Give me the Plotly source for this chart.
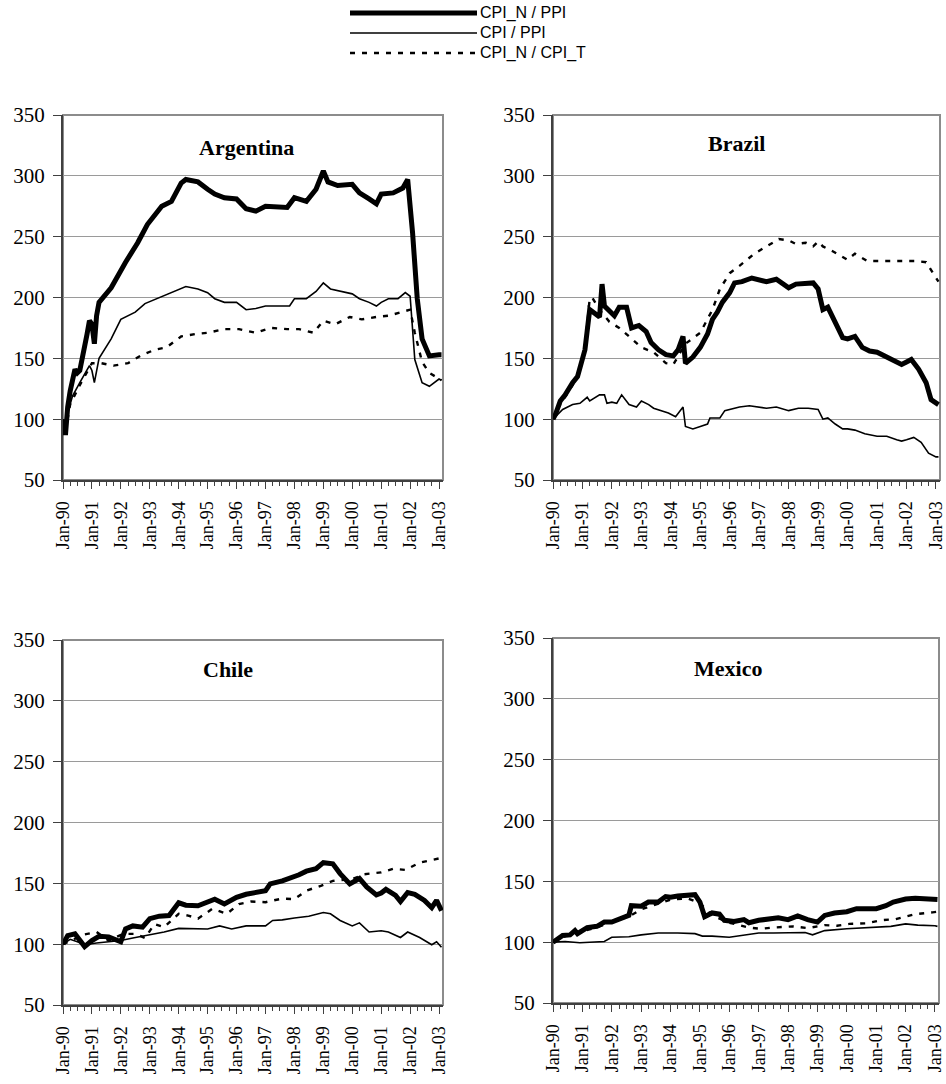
import plotly.graph_objects as go

# ---------------- data ----------------
ar_nppi_d = ["1990-01","1990-02","1990-03","1990-04","1990-06","1990-07","1990-08","1990-09","1990-11","1990-12",
             "1991-01","1991-02","1991-03","1991-04","1991-09","1992-03","1992-08","1992-12","1993-06","1993-10",
             "1994-02","1994-04","1994-09","1995-01","1995-04","1995-08","1996-01","1996-05","1996-09","1997-01",
             "1997-06","1997-10","1998-01","1998-06","1998-10","1999-01","1999-03","1999-07","2000-01","2000-04",
             "2000-08","2000-11","2001-01","2001-06","2001-10","2001-12","2002-02","2002-04","2002-06","2002-09",
             "2003-01","2003-02"]
ar_nppi_v = [100,87,110,123,141,138,140,149,170,181,
             178,162,185,196,208,229,245,260,275,279,
             294,297,295,289,285,282,281,273,271,275,
             275,274,282,279,289,304,295,292,293,286,
             281,277,285,286,290,297,253,199,166,152,
             153,153]

ar_cpi_d = ["1990-01","1990-02","1990-03","1990-05","1990-08","1990-12","1991-01","1991-02","1991-04","1991-09",
            "1992-01","1992-07","1992-11","1993-06","1993-12","1994-04","1994-09","1995-01","1995-04","1995-08",
            "1996-01","1996-05","1996-09","1997-01","1997-06","1997-11","1998-01","1998-06","1998-10","1999-01",
            "1999-04","1999-08","2000-01","2000-04","2000-08","2000-11","2001-01","2001-04","2001-08","2001-11",
            "2002-01","2002-03","2002-06","2002-09","2003-01","2003-02"]
ar_cpi_v = [100,88,105,119,130,144,140,130,150,166,
            182,188,195,201,206,209,207,204,199,196,
            196,190,191,193,193,193,199,199,205,212,
            207,205,203,199,196,193,196,199,199,204,
            201,149,130,127,133,132]

ar_nt_d = ["1990-01","1990-02","1990-04","1990-08","1991-01","1991-05","1991-10","1992-04","1992-09","1993-03",
           "1993-08","1994-02","1994-08","1995-01","1995-08","1996-02","1996-09","1997-03","1997-10","1998-03",
           "1998-09","1999-01","1999-06","1999-12","2000-05","2000-11","2001-04","2001-10","2002-01","2002-03",
           "2002-06","2002-09","2003-01","2003-02"]
ar_nt_v = [100,90,112,128,146,146,144,146,152,157,
           159,168,170,171,174,174,171,175,174,174,
           171,181,178,184,182,184,185,188,190,171,
           147,138,133,132]

br_nppi_d = ["1990-01","1990-02","1990-04","1990-06","1990-09","1990-11","1991-02","1991-04","1991-06","1991-08",
             "1991-09","1991-10","1992-02","1992-04","1992-07","1992-09","1992-12","1993-03","1993-05","1993-08",
             "1993-11","1994-02","1994-04","1994-06","1994-07","1994-10","1995-01","1995-04","1995-06","1995-08",
             "1995-10","1996-01","1996-03","1996-06","1996-10","1997-01","1997-04","1997-08","1998-01","1998-04",
             "1998-08","1998-11","1999-01","1999-03","1999-05","1999-08","1999-11","2000-01","2000-04","2000-07",
             "2000-10","2001-01","2001-05","2001-07","2001-11","2002-01","2002-03","2002-06","2002-09","2002-11",
             "2003-01","2003-02"]
br_nppi_v = [100,104,115,120,130,135,157,190,187,184,
             211,193,185,192,192,175,177,172,163,157,
             153,152,157,168,146,151,159,170,182,188,
             196,204,212,213,216,214,213,215,208,211,
             211,212,207,190,192,179,167,166,168,159,
             156,155,151,148,145,147,149,141,130,116,
             113,112]

br_cpi_d = ["1990-01","1990-05","1990-09","1990-12","1991-03","1991-04","1991-08","1991-10","1991-11","1992-01",
            "1992-03","1992-05","1992-08","1992-11","1993-01","1993-04","1993-06","1993-09","1993-12","1994-03",
            "1994-06","1994-07","1994-10","1995-01","1995-04","1995-05","1995-09","1995-11","1996-01","1996-05",
            "1996-09","1997-01","1997-04","1997-08","1998-01","1998-05","1998-09","1999-01","1999-03","1999-05",
            "1999-08","1999-11","2000-01","2000-04","2000-08","2001-01","2001-05","2001-09","2001-11","2002-01",
            "2002-04","2002-07","2002-10","2003-01","2003-02"]
br_cpi_v = [100,108,112,113,118,115,120,120,113,114,
            113,120,112,110,115,112,109,107,105,102,
            110,94,92,94,96,101,101,107,108,110,
            111,110,109,110,107,109,109,108,100,101,
            96,92,92,91,88,86,86,83,82,83,
            85,81,72,69,69]

br_nt_d = ["1990-01","1990-04","1990-09","1990-11","1991-02","1991-04","1991-05","1991-08","1991-12","1992-04",
           "1992-08","1993-01","1993-06","1993-11","1994-02","1994-07","1995-01","1995-06","1995-09","1996-01",
           "1996-05","1996-11","1997-04","1997-09","1998-01","1998-04","1998-08","1998-11","1999-01","1999-03",
           "1999-07","1999-11","2000-01","2000-04","2000-09","2001-03","2001-08","2002-01","2002-05","2002-09",
           "2003-01","2003-02"]
br_nt_v = [100,112,128,135,159,199,200,190,180,175,
           168,159,155,146,145,162,171,190,207,220,
           226,236,242,248,247,244,245,242,246,242,
           238,233,231,236,230,230,230,230,230,229,
           216,213]

cl_nppi_d = ["1990-01","1990-03","1990-06","1990-08","1990-10","1991-01","1991-04","1991-08","1991-11","1992-01",
             "1992-03","1992-06","1992-10","1993-01","1993-05","1993-09","1994-01","1994-04","1994-09","1995-01",
             "1995-04","1995-08","1996-01","1996-05","1996-09","1997-01","1997-03","1997-08","1998-03","1998-06",
             "1998-10","1999-01","1999-05","1999-08","1999-12","2000-04","2000-07","2000-11","2001-01","2001-03",
             "2001-07","2001-09","2001-12","2002-03","2002-07","2002-10","2002-12","2003-02"]
cl_nppi_v = [100,107,108.5,104,98,103,106.5,106,104,102,
             112.5,115,114,121,123,123.5,134,132,131.5,134.5,
             137,133,138.5,141,142,144,149.5,152,157,160,
             162,167,166,158,149.5,154,147,140.5,142,145,
             140,135,142.5,141,136,130,136,127.5]

cl_cpi_d = ["1990-01","1990-04","1990-07","1990-10","1991-03","1991-08","1992-01","1992-06","1993-01","1993-07",
            "1994-01","1994-06","1995-01","1995-06","1995-11","1996-05","1997-01","1997-04","1997-08","1998-01",
            "1998-07","1999-01","1999-04","1999-08","2000-01","2000-04","2000-08","2001-01","2001-04","2001-09",
            "2001-12","2002-05","2002-10","2002-12","2003-02"]
cl_cpi_v = [100,104,102,99.5,101,102,103,105,107.5,110,
            113,113,112.5,115,112.5,115,115,119.5,120,121.5,
            123,126,125,119.5,115,117.5,110,111,110,105.5,
            110,105.5,99.5,102,97.5]

cl_nt_d = ["1990-01","1990-10","1991-03","1991-08","1992-02","1992-07","1992-11","1993-03","1993-07","1994-01",
           "1994-05","1994-09","1995-03","1995-09","1996-02","1996-07","1997-01","1997-08","1998-01","1998-06",
           "1998-12","1999-05","2000-01","2000-06","2001-01","2001-06","2001-11","2002-05","2003-01","2003-02"]
cl_nt_v = [100,108,110,103,108.5,108.5,105,116.5,114,125,
           123.5,121,129,125,133,135,134.5,137.5,137,144,
           148,152,153.5,157.5,159,162,161,167,170.5,171]

mx_nppi_d = ["1990-01","1990-05","1990-08","1990-10","1990-11","1991-03","1991-07","1991-10","1992-01","1992-04",
             "1992-08","1992-09","1993-01","1993-04","1993-08","1993-11","1994-01","1994-04","1994-08","1994-11",
             "1995-01","1995-03","1995-06","1995-09","1995-11","1996-03","1996-07","1996-09","1997-01","1997-04",
             "1997-09","1998-01","1998-05","1998-09","1999-01","1999-04","1999-08","2000-01","2000-05","2001-01",
             "2001-05","2001-08","2002-01","2002-05","2002-09","2003-01","2003-02"]
mx_nppi_v = [100,105.5,106,109.5,107,112,113,116.5,116.5,119,
             122,130,129.5,133,133,137.5,137,138,138,139,
             133,121,124,123,118,117,118.5,116,118,119,
             120,118.5,121.5,118.5,116.5,122,124,125,127.5,127.5,
             130,133,135.5,136,136,135.5,135]

mx_cpi_d = ["1990-01","1990-06","1990-12","1991-07","1991-10","1992-01","1992-08","1993-01","1993-08","1994-04",
            "1994-11","1995-02","1995-06","1996-01","1996-05","1997-01","1997-07","1998-01","1998-08","1998-11",
            "1999-04","2000-01","2000-07","2001-01","2001-07","2002-01","2002-06","2003-01","2003-02"]
mx_cpi_v = [100,100.5,99.5,100.5,100.5,104,104.5,106,107.5,107.5,
            107,105,105,104,105,107.5,107.5,107.5,108,106,
            109.5,111,111.5,112.5,113,115,114,113.5,113]

mx_nt_d = ["1990-01","1990-06","1991-01","1991-07","1992-01","1992-08","1993-01","1993-08","1994-01","1994-08",
           "1995-01","1995-06","1996-01","1996-09","1997-02","1997-07","1998-03","1998-09","1999-04","1999-09",
           "2000-02","2000-09","2001-03","2001-09","2002-05","2002-12","2003-02"]
mx_nt_v = [100,105,109,112,117,121,127,132,135,136,
           132,122,116,112,111,112,113,111.5,114,113.5,
           115,115.5,118,119,123,124.5,125]

countries = ["Argentina", "Brazil", "Chile", "Mexico"]
series_names = ["CPI_N / PPI", "CPI / PPI", "CPI_N / CPI_T"]
data = {
    "Argentina": [(ar_nppi_d, ar_nppi_v), (ar_cpi_d, ar_cpi_v), (ar_nt_d, ar_nt_v)],
    "Brazil":    [(br_nppi_d, br_nppi_v), (br_cpi_d, br_cpi_v), (br_nt_d, br_nt_v)],
    "Chile":     [(cl_nppi_d, cl_nppi_v), (cl_cpi_d, cl_cpi_v), (cl_nt_d, cl_nt_v)],
    "Mexico":    [(mx_nppi_d, mx_nppi_v), (mx_cpi_d, mx_cpi_v), (mx_nt_d, mx_nt_v)],
}
y_ticks = [50, 100, 150, 200, 250, 300, 350]

# ---------------- layout / styling ----------------
FW, FH = 946, 1084


def fx(px):
    return px / FW


def fy(py):
    return 1 - py / FH


# plot areas in page pixels: (left, right, top, bottom)
areas = {
    "Argentina": (63, 443, 115, 480),
    "Brazil":    (553, 940, 115, 480),
    "Chile":     (63, 443, 640, 1005),
    "Mexico":    (553, 939, 638, 1003),
}
title_pos = {"Argentina": (246, 147), "Brazil": (736, 143), "Chile": (228, 669), "Mexico": (728, 668)}

styles = [dict(color="black", width=5),
          dict(color="black", width=1.6),
          dict(color="black", width=2.4, dash="5px,7px")]

serif = "Liberation Serif, Times New Roman, serif"
fig = go.Figure()
layout = dict(width=FW, height=FH, margin=dict(l=0, r=0, t=0, b=0, autoexpand=False),
              paper_bgcolor="white", plot_bgcolor="white", showlegend=False)
shapes, annotations = [], []

for i, c in enumerate(countries):
    n = "" if i == 0 else str(i + 1)
    l, r, t, b = areas[c]
    for (d, v), st, nm in zip(data[c], styles, series_names):
        fig.add_trace(go.Scatter(x=d, y=v, mode="lines", line=st, name=nm,
                                 xaxis="x" + n, yaxis="y" + n))
    layout["xaxis" + n] = dict(
        domain=[fx(l), fx(r)], anchor="y" + n, type="date", automargin=False,
        range=["1990-01-01", "2003-02-20"],
        tick0="1990-01-01", dtick="M12", tickformat="%b-%y", tickangle=-90,
        ticks="outside", ticklen=7, tickcolor="#404040", tickwidth=1,
        minor=dict(dtick="M3", tick0="1990-01-01", ticks="outside", ticklen=4,
                   tickcolor="#404040", showgrid=False),
        showgrid=False, showline=True, linecolor="#404040", linewidth=2,
        tickfont=dict(family=serif, size=18, color="black"), zeroline=False,
        ticklabelstandoff=5, ticklabeloverflow="allow", fixedrange=True)
    layout["yaxis" + n] = dict(
        domain=[fy(b), fy(t)], anchor="x" + n, automargin=False,
        range=[50, 350], tickvals=y_ticks,
        ticks="outside", ticklen=8, tickcolor="#404040",
        showgrid=True, gridcolor="#9a9a9a", gridwidth=1,
        showline=True, linecolor="#404040", linewidth=2,
        tickfont=dict(family=serif, size=21, color="black"), zeroline=False,
        ticklabelstandoff=4, ticklabeloverflow="allow", fixedrange=True)
    # grey frame (top and right borders)
    shapes.append(dict(type="rect", xref="paper", yref="paper",
                       x0=fx(l), x1=fx(r), y0=fy(b), y1=fy(t),
                       line=dict(color="#8c8c8c", width=2), layer="below"))
    tx, ty = title_pos[c]
    annotations.append(dict(text="<b>" + c + "</b>", x=fx(tx), y=fy(ty),
                            xref="paper", yref="paper", showarrow=False,
                            xanchor="center", yanchor="middle",
                            font=dict(family=serif, size=22, color="black")))

# custom legend (top centre)
leg_y = [13, 33, 53]
for nm, st, yy in zip(series_names, styles, leg_y):
    shapes.append(dict(type="line", xref="paper", yref="paper",
                       x0=fx(350), x1=fx(477), y0=fy(yy), y1=fy(yy),
                       line=st))
    annotations.append(dict(text=nm, x=fx(478), y=fy(yy), xref="paper", yref="paper",
                            showarrow=False, xanchor="left", yanchor="middle",
                            font=dict(family="Liberation Sans, Arial, sans-serif", size=16,
                                      color="black")))

layout["shapes"] = shapes
layout["annotations"] = annotations
fig.update_layout(**layout)
# remove the default 8px page margin so the figure fills the window exactly
fig.write_html("out.html", config={"displayModeBar": False},
               post_script="document.body.style.margin='0';document.body.style.overflow='hidden';")
